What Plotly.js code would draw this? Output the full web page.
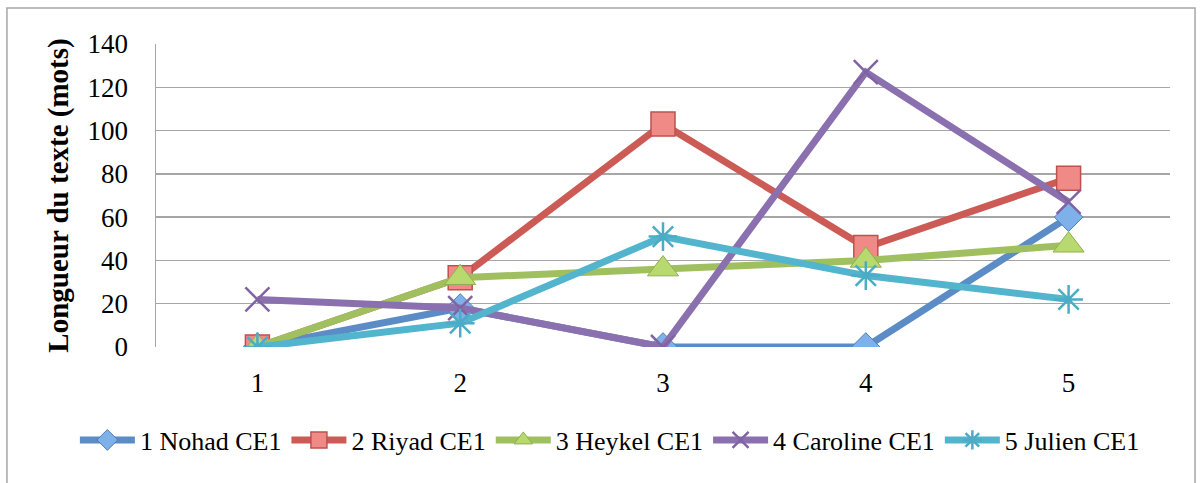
<!DOCTYPE html>
<html>
<head>
<meta charset="utf-8">
<script src="https://cdn.plot.ly/plotly-3.0.1.min.js"></script>
<style>html,body{margin:0;padding:0;background:#fff;}#chart{width:1204px;height:483px;}</style>
</head>
<body>
<div id="chart"></div>
<script>
const categories = ["1", "2", "3", "4", "5"];
const seriesNames = ["1 Nohad CE1", "2 Riyad CE1", "3 Heykel CE1", "4 Caroline CE1", "5 Julien CE1"];
const nohad = [0, 18, 0, 0, 60];
const riyad = [0, 32, 103, 46, 78];
const heykel = [0, 32, 36, 40, 47];
const caroline = [22, 18, 0, 127, 67];
const julien = [0, 11, 51, 33, 22];
const yTicks = [0, 20, 40, 60, 80, 100, 120, 140];

const seriesValues = [nohad, riyad, heykel, caroline, julien];
const lineColors = ["#5B8CC6", "#CC5B56", "#A0C060", "#8B70AF", "#52B4CD"];
const markerFills = ["#7EB1EA", "#F08A86", "#B8D870", "#8B70AF", "#52B4CD"];
const markerLines = ["#4F7DB8", "#C0504D", "#8FB050", "#8064A2", "#4BACC6"];
const symbols = ["diamond", "square", "triangle-up", "x-thin-open", "asterisk-open"];
const sizes = [22, 24, 27, 24, 24];
const mlw = [1, 1.5, 1, 2.5, 2.5];

const FONT = "Liberation Serif, DejaVu Serif, serif";

const traces = seriesValues.map((vals, i) => ({
  type: "scatter",
  mode: "lines+markers",
  name: seriesNames[i],
  x: categories,
  y: vals,
  line: {color: lineColors[i], width: 7},
  marker: {
    symbol: symbols[i],
    size: sizes[i],
    color: (i >= 3) ? markerLines[i] : markerFills[i],
    line: {color: markerLines[i], width: mlw[i]}
  }
}));

const layout = {
  width: 1204,
  height: 483,
  paper_bgcolor: "#ffffff",
  plot_bgcolor: "#ffffff",
  margin: {l: 156, r: 34, t: 44, b: 136, autoexpand: false},
  font: {family: FONT, size: 26, color: "#000"},
  showlegend: true,
  legend: {
    orientation: "h",
    x: -0.08, xanchor: "left",
    y: -0.307, yanchor: "middle",
    font: {family: FONT, size: 26, color: "#000"},
    itemwidth: 55,
    tracegroupgap: 0,
    traceorder: "normal"
  },
  xaxis: {
    type: "category",
    range: [-0.5, 4.5],
    showgrid: false,
    zeroline: false,
    showline: false,
    ticks: "",
    ticklabelstandoff: 17,
    tickfont: {family: FONT, size: 27, color: "#000"}
  },
  yaxis: {
    range: [0, 140],
    tickvals: yTicks,
    ticktext: yTicks.map(String),
    showgrid: true,
    gridcolor: "#A6A6A6",
    gridwidth: 1.5,
    zeroline: false,
    showline: true,
    linecolor: "#A6A6A6",
    linewidth: 1.5,
    ticks: "",
    ticklabelstandoff: 21,
    tickfont: {family: FONT, size: 27, color: "#000"},
    title: {
      text: "<b>Longueur du texte (mots)</b>",
      font: {family: FONT, size: 29, color: "#000"},
      standoff: 10
    },
    automargin: false
  },
  shapes: [{
    type: "rect", xref: "paper", yref: "paper",
    x0: -0.147, x1: 1.0247, y0: -0.47, y1: 1.1188,
    line: {color: "#A6A6A6", width: 1.5},
    fillcolor: "rgba(0,0,0,0)",
    layer: "below"
  }]
};

Plotly.newPlot("chart", traces, layout, {displayModeBar: false, staticPlot: true});
</script>
</body>
</html>
